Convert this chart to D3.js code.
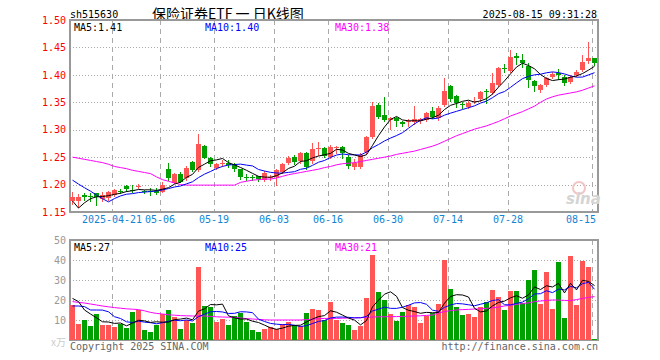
<!DOCTYPE html>
<html>
<head>
<meta charset="utf-8">
<script src="https://cdn.jsdelivr.net/npm/d3@7"></script>
<style>
  body { margin: 0; background: #fff; }
  svg { display: block; font-family: "DejaVu Sans Mono", "Liberation Mono", monospace; }
</style>
</head>
<body>
<svg id="kline"></svg>
<script>
// trading days shown (2025)
const dates = [
  "04-10","04-11","04-14","04-15","04-16","04-17","04-18","04-21","04-22","04-23","04-24","04-25","04-28","04-29","04-30",
  "05-06","05-07","05-08","05-09","05-12","05-13","05-14","05-15","05-16","05-19","05-20","05-21","05-22","05-23","05-26","05-27","05-28","05-29","05-30",
  "06-03","06-04","06-05","06-06","06-09","06-10","06-11","06-12","06-13","06-16","06-17","06-18","06-19","06-20","06-23","06-24","06-25","06-26","06-27","06-30",
  "07-01","07-02","07-03","07-04","07-07","07-08","07-09","07-10","07-11","07-14","07-15","07-16","07-17","07-18","07-21","07-22","07-23","07-24","07-25","07-28","07-29","07-30","07-31",
  "08-01","08-04","08-05","08-06","08-07","08-08","08-11","08-12","08-13","08-14","08-15"
]
const tickDates  = ["04-21","05-06","05-19","06-03","06-16","06-30","07-14","07-28","08-15"]
const tickLabels = ["2025-04-21","05-06","05-19","06-03","06-16","06-30","07-14","07-28","08-15"]
const priceTicks = [1.15, 1.20, 1.25, 1.30, 1.35, 1.40, 1.45, 1.50]
const volTicks   = [10, 20, 30, 40, 50]

const open = [1.170,1.171,1.181,1.180,1.184,1.174,1.175,1.181,1.189,1.197,1.191,1.195,1.189,1.189,1.189,
  1.188,1.228,1.203,1.220,1.211,1.242,1.227,1.271,1.248,1.231,1.238,1.240,1.237,1.228,1.214,1.213,1.215,1.209,1.212,
  1.213,1.223,1.240,1.251,1.242,1.258,1.242,1.265,1.267,1.251,1.268,1.269,1.251,1.232,1.233,1.258,1.287,1.345,1.327,1.318,
  1.321,1.314,1.315,1.313,1.315,1.318,1.335,1.320,1.345,1.380,1.361,1.346,1.342,1.351,1.357,1.370,1.367,1.381,1.412,1.408,1.434,1.427,1.416,
  1.389,1.372,1.381,1.397,1.403,1.397,1.388,1.400,1.409,1.424,1.430]
const high = [1.187,1.182,1.184,1.184,1.185,1.186,1.188,1.192,1.192,1.199,1.199,1.201,1.190,1.193,1.193,
  1.205,1.239,1.222,1.223,1.233,1.243,1.293,1.272,1.250,1.240,1.245,1.245,1.240,1.229,1.219,1.218,1.216,1.224,1.217,
  1.228,1.240,1.252,1.254,1.259,1.260,1.276,1.278,1.268,1.272,1.270,1.270,1.253,1.246,1.257,1.289,1.351,1.349,1.360,1.324,
  1.323,1.316,1.320,1.344,1.321,1.333,1.342,1.343,1.395,1.382,1.363,1.351,1.352,1.359,1.371,1.375,1.403,1.414,1.420,1.445,1.440,1.438,1.421,
  1.390,1.383,1.396,1.405,1.410,1.399,1.400,1.409,1.436,1.459,1.431]
const low = [1.165,1.160,1.172,1.170,1.163,1.170,1.172,1.179,1.184,1.188,1.187,1.193,1.184,1.181,1.182,
  1.186,1.209,1.202,1.204,1.209,1.225,1.225,1.248,1.233,1.228,1.234,1.232,1.225,1.211,1.208,1.208,1.206,1.206,1.208,
  1.199,1.221,1.238,1.238,1.240,1.229,1.240,1.254,1.251,1.249,1.258,1.248,1.230,1.229,1.231,1.256,1.285,1.322,1.315,1.302,
  1.306,1.306,1.307,1.310,1.312,1.316,1.322,1.318,1.343,1.353,1.342,1.339,1.339,1.348,1.352,1.349,1.365,1.379,1.406,1.406,1.420,1.414,1.378,
  1.371,1.369,1.379,1.395,1.392,1.382,1.385,1.398,1.407,1.422,1.418]
const close = [1.178,1.178,1.178,1.178,1.176,1.181,1.186,1.190,1.188,1.191,1.189,1.197,1.187,1.188,1.186,
  1.200,1.211,1.219,1.206,1.230,1.227,1.274,1.249,1.237,1.238,1.240,1.236,1.228,1.214,1.212,1.212,1.209,1.221,1.213,
  1.226,1.238,1.249,1.241,1.257,1.232,1.264,1.266,1.253,1.269,1.269,1.258,1.235,1.239,1.254,1.286,1.343,1.324,1.318,1.321,
  1.315,1.311,1.316,1.319,1.319,1.331,1.324,1.339,1.371,1.357,1.348,1.344,1.349,1.353,1.369,1.368,1.386,1.412,1.410,1.433,1.430,1.421,1.391,
  1.380,1.381,1.394,1.402,1.399,1.386,1.397,1.406,1.424,1.430,1.421]
// closes of the 9 sessions before the window (for MA5 / MA10)
const prevClose = [1.250,1.245,1.240,1.248,1.247,1.243,1.130,1.140,1.160]
// MA30
const ma30 = [1.250,1.248,1.246,1.244,1.242,1.240,1.237,1.233,1.231,1.229,1.226,1.224,1.222,1.220,1.214,
  1.209,1.206,1.203,1.200,1.199,1.199,1.199,1.199,1.199,1.199,1.199,1.199,1.199,1.204,1.206,1.208,1.209,1.210,1.210,
  1.212,1.215,1.218,1.220,1.222,1.224,1.226,1.228,1.231,1.233,1.236,1.238,1.239,1.240,1.242,1.244,1.246,1.248,1.250,1.252,
  1.255,1.257,1.259,1.261,1.264,1.267,1.270,1.274,1.279,1.284,1.289,1.293,1.297,1.301,1.304,1.307,1.311,1.315,1.320,1.325,1.329,1.333,1.338,
  1.343,1.350,1.356,1.360,1.363,1.365,1.367,1.369,1.372,1.376,1.380]

// volume (万)
const volume = [17.5,8,10,7,13,7.5,7.5,6.5,8,6,14,14.8,5,4.2,7.5,
  13,15,11.3,5.5,10,8.7,36.7,17,16.3,9.2,10.5,7.5,12,13.3,9.2,5,4.2,5.5,6.5,
  5.5,8,9,7.5,7,13.5,15.5,15,10,19,10,8.3,7.5,5,7,20.8,42.5,24.2,20,13,
  9.7,14.2,17.5,16.7,8.7,12,13.3,18,40,25.3,16.7,12.5,13,11.7,16.3,19.2,25,21.7,15,24.5,24.5,18.7,30,
  35,18,34,15.5,39.2,11,42,17.5,39.5,36.5,0.5]
const prevVolume = [8,13,24,13,8,16,31,17,22.5]
const volMa30 = [19.2,18.8,18.5,18.0,17.5,17.0,16.6,16.2,15.9,15.6,15.4,15.2,14.6,13.8,13.3,
  13.0,12.6,12.4,12.2,12.1,12.0,12.0,12.0,11.8,11.6,11.5,11.4,11.3,11.0,10.7,10.5,10.3,10.1,10.0,
  10.0,10.0,10.0,10.0,10.0,10.2,10.4,10.6,10.8,10.8,10.8,10.9,11.0,11.1,11.2,11.3,11.5,11.6,11.6,11.7,
  11.7,11.8,11.9,12.0,12.1,12.3,12.5,13.5,14.2,14.7,15.0,15.2,15.3,15.5,15.6,15.8,16.1,16.5,17.0,17.4,17.8,18.2,18.6,
  19.2,19.5,19.8,20.0,20.0,19.8,19.7,20.2,20.8,21.3,21.7]

const UP = "#ff5555", DOWN = "#00a000", GRID = "#aaaaaa"

const movingAvg = (prev, vals, n) => {
    const all = prev.concat(vals)
    return vals.map((v, i) => d3.mean(all.slice(i + prev.length - n + 1, i + prev.length + 1)))
}
const ma5 = movingAvg(prevClose, close, 5)
const ma10 = movingAvg(prevClose, close, 10)
const volMa5 = movingAvg(prevVolume, volume, 5)
const volMa10 = movingAvg(prevVolume, volume, 10)

const width = 660, height = 360
const left = 70, right = 598
const svg = d3.select("#kline").attr("width", width).attr("height", height)

const x = d3.scaleBand().domain(dates).range([left, right])
const y = d3.scaleLinear().domain([1.15, 1.50]).range([212, 20])
const yv = d3.scaleLinear().domain([0, 50]).range([340, 240])
const idx = d3.range(dates.length)
const cx = i => x(dates[i]) + 2.5

// titles
svg.append("text").attr("x", 70).attr("y", 18).attr("font-size", 10).attr("fill", "#000").text("sh515630")
svg.append("text").attr("x", 152).attr("y", 19).attr("font-size", 14)
    .attr("font-family", "'Noto Sans CJK SC', sans-serif").attr("fill", "#000")
    .attr("xml:space", "preserve").style("white-space", "pre").text("保险证券ETF 一 日K线图")
svg.append("text").attr("x", 597).attr("y", 18).attr("font-size", 10).attr("text-anchor", "end")
    .attr("fill", "#000").text("2025-08-15 09:31:28")

const drawPanel = (yScale, top, bottom, hTicks) => {
    const g = svg.append("g")
    // horizontal dotted grid
    g.selectAll("line.h").data(hTicks).enter().append("line")
        .attr("x1", left).attr("x2", right)
        .attr("y1", d => Math.round(yScale(d)) + 0.5).attr("y2", d => Math.round(yScale(d)) + 0.5)
        .attr("stroke", GRID).attr("stroke-dasharray", "1,2")
    // vertical dashed grid
    g.selectAll("line.v").data(tickDates).enter().append("line")
        .attr("x1", d => x(d) + 0.5).attr("x2", d => x(d) + 0.5)
        .attr("y1", top).attr("y2", bottom)
        .attr("stroke", GRID).attr("stroke-dasharray", "5,4")
    // frame
    g.append("rect").attr("x", left).attr("y", top).attr("width", right - left).attr("height", bottom - top)
        .attr("fill", "none").attr("stroke", "#999").attr("stroke-width", 2)
}

drawPanel(y, 20, 212, [1.20, 1.25, 1.30, 1.35, 1.40, 1.45])
drawPanel(yv, 240, 340, [10, 20, 30, 40])

// price axis
svg.append("g").attr("transform", `translate(${left},0)`)
    .call(d3.axisLeft(y).tickValues(priceTicks).tickFormat(d3.format(".2f")).tickSize(0).tickPadding(4))
    .call(g => g.select(".domain").remove())
    .call(g => g.selectAll("text").attr("fill", "#ff0000").attr("font-size", 10)
        .attr("font-family", "'DejaVu Sans Mono', monospace"))

// volume axis
svg.append("g").attr("transform", `translate(${left},0)`)
    .call(d3.axisLeft(yv).tickValues(volTicks).tickSize(0).tickPadding(4))
    .call(g => g.select(".domain").remove())
    .call(g => g.selectAll("text").attr("fill", "#999").attr("font-size", 10)
        .attr("font-family", "'DejaVu Sans Mono', monospace"))
svg.append("text").attr("x", 51).attr("y", 346).attr("font-size", 10).attr("fill", "#cccccc")
    .attr("font-family", "'Noto Sans CJK SC', sans-serif").text("x万")

// date axis
svg.append("g").attr("transform", `translate(${-x.bandwidth() / 2},213)`)
    .call(d3.axisBottom(x).tickValues(tickDates).tickFormat((d, i) => tickLabels[i]).tickSize(0).tickPadding(3))
    .call(g => g.select(".domain").remove())
    .call(g => g.selectAll("text").attr("fill", "#1284d4").attr("font-size", 10)
        .attr("font-family", "'DejaVu Sans Mono', monospace"))
    .call(g => g.selectAll(".tick").filter(d => d === tickDates[tickDates.length - 1])
        .select("text").attr("text-anchor", "end").attr("x", x.bandwidth() / 2 + 1))

// sina watermark
svg.append("circle").attr("cx", 579).attr("cy", 188).attr("r", 6).attr("fill", "none")
    .attr("stroke", "#f2c4c4").attr("stroke-width", 2)
svg.append("text").attr("x", 566).attr("y", 204).attr("font-size", 15).attr("font-style", "italic")
    .attr("font-weight", "bold").attr("font-family", "'DejaVu Sans', sans-serif").attr("fill", "#d4d4d4").text("sina")

// candles
const candles = svg.append("g").selectAll("g").data(idx).enter().append("g")
candles.append("line")
    .attr("x1", cx).attr("x2", cx)
    .attr("y1", i => Math.round(y(high[i]))).attr("y2", i => Math.round(y(low[i])) + 1)
    .attr("stroke", i => close[i] >= open[i] ? UP : DOWN)
candles.append("rect")
    .attr("x", i => x(dates[i]))
    .attr("width", 5)
    .attr("y", i => Math.round(y(Math.max(open[i], close[i]))))
    .attr("height", i => Math.max(1, Math.round(Math.abs(y(open[i]) - y(close[i])))))
    .attr("fill", i => close[i] >= open[i] ? UP : DOWN)

// volume bars
svg.append("g").selectAll("rect").data(idx).enter().append("rect")
    .attr("x", i => x(dates[i]))
    .attr("width", 5)
    .attr("y", i => Math.round(yv(volume[i])))
    .attr("height", i => 340 - Math.round(yv(volume[i])))
    .attr("fill", i => close[i] >= open[i] ? UP : DOWN)

// moving averages
const drawLine = (vals, scale, color) => {
    svg.append("path").datum(idx)
        .attr("d", d3.line().x(cx).y(i => scale(vals[i])))
        .attr("fill", "none").attr("stroke", color).attr("stroke-width", 1)
}
drawLine(ma30, y, "#ff00ff")
drawLine(ma10, y, "#0000ff")
drawLine(ma5, y, "#000000")
drawLine(volMa30, yv, "#ff00ff")
drawLine(volMa10, yv, "#0000ff")
drawLine(volMa5, yv, "#000000")

// legends
const f2 = d3.format(".2f"), f0 = d3.format(".0f")
const last = dates.length - 1
const legend = (yPos, items) => items.forEach(([lx, txt, color]) =>
    svg.append("text").attr("x", lx).attr("y", yPos).attr("font-size", 10).attr("fill", color).text(txt))
legend(31, [[74, "MA5:" + f2(Math.floor(ma5[last] * 100) / 100), "#000"],
            [205, "MA10:" + f2(Math.floor(ma10[last] * 100) / 100), "#0000ff"],
            [335, "MA30:" + f2(Math.floor(ma30[last] * 100) / 100), "#ff00ff"]])
legend(251, [[74, "MA5:" + f0(Math.floor(volMa5[last])), "#000"],
             [205, "MA10:" + f0(Math.floor(volMa10[last])), "#0000ff"],
             [335, "MA30:" + f0(Math.floor(volMa30[last])), "#ff00ff"]])

// footer
svg.append("text").attr("x", 70).attr("y", 350).attr("font-size", 10).attr("fill", "#666").text("Copyright 2025 SINA.COM")
svg.append("text").attr("x", 598).attr("y", 350).attr("font-size", 10).attr("text-anchor", "end")
    .attr("fill", "#666").text("http://finance.sina.com.cn")
</script>
</body>
</html>
